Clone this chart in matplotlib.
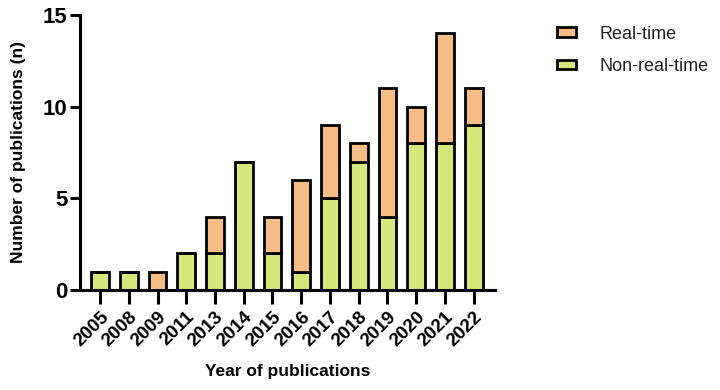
import matplotlib
matplotlib.use("Agg")
from matplotlib import pyplot as plt
import numpy as np

years = ["2005", "2008", "2009", "2011", "2013", "2014", "2015", "2016",
         "2017", "2018", "2019", "2020", "2021", "2022"]
non_real_time = [1, 1, 0, 2, 2, 7, 2, 1, 5, 7, 4, 8, 8, 9]
real_time = [0, 0, 1, 0, 2, 0, 2, 5, 4, 1, 7, 2, 6, 2]

plt.rcParams["font.family"] = ["Liberation Sans", "DejaVu Sans"]

green = "#d6e77c"
orange = "#f6bd87"

f = plt.figure(figsize=(7.2, 3.9), dpi=100)
ax = f.add_axes([0.111, 0.256, 0.576, 0.706])

x = np.arange(len(years))
ax.bar(x, non_real_time, width=0.62, color=green, edgecolor="black",
       linewidth=2, label="Non-real-time", zorder=2)
ax.bar(x, real_time, width=0.62, bottom=non_real_time, color=orange,
       edgecolor="black", linewidth=2, label="Real-time", zorder=2)

ax.set_xlim(-0.7, 13.73)
ax.set_ylim(0, 15)
ax.set_yticks([0, 5, 10, 15])
ax.set_xticks(x)
ax.set_xticklabels(years, rotation=45, ha="right", rotation_mode="anchor",
                   fontsize=13.5, fontweight="bold")
for lbl in ax.get_yticklabels():
    lbl.set_fontsize(16)
    lbl.set_fontweight("bold")

ax.spines["top"].set_visible(False)
ax.spines["right"].set_visible(False)
ax.spines["left"].set_linewidth(2.2)
ax.spines["bottom"].set_linewidth(2.2)
ax.tick_params(axis="y", length=7, width=2.2, pad=2)
ax.tick_params(axis="x", length=10, width=2.2, pad=3)

ax.set_xlabel("Year of publications", fontsize=12.5, fontweight="bold",
              labelpad=10)
ax.set_ylabel("Number of publications (n)", fontsize=12.5, fontweight="bold",
              labelpad=12)

h, l = ax.get_legend_handles_labels()
leg = ax.legend(h[::-1], l[::-1], loc="upper left", bbox_to_anchor=(1.11, 1.02),
                frameon=False, fontsize=13, handlelength=1.1, handleheight=0.45,
                labelspacing=0.85, handletextpad=1.3)
for t in leg.get_texts():
    t.set_color("#222222")

f.savefig("out.png", dpi=100)
